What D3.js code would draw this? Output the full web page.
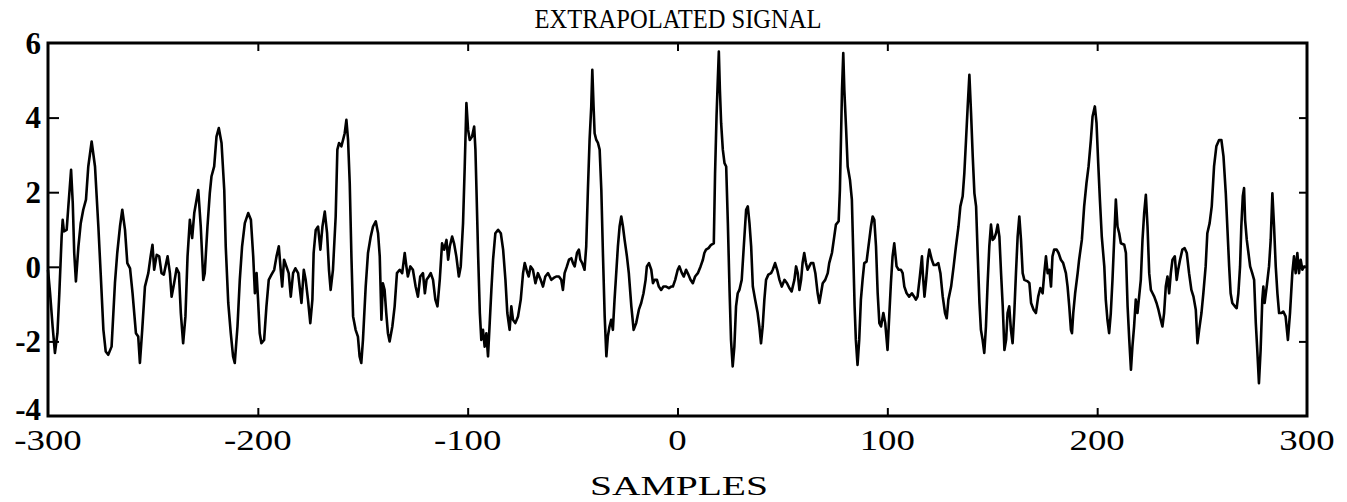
<!DOCTYPE html>
<html>
<head>
<meta charset="utf-8">
<script src="https://cdn.jsdelivr.net/npm/d3@7"></script>
<style>
  body { margin: 0; background: #fff; }
  svg { display: block; }
  text { font-family: "Liberation Serif", "Times New Roman", serif; fill: #000; }
</style>
</head>
<body>
<svg class="chart" width="1347" height="502"></svg>
<script>
// [sample, amplitude]
const signal = [
  [-300,-0.08],[-299,-0.71],[-297.8,-1.6],[-296.7,-2.31],[-295.5,-1.78],[-294.6,-0.71],[-293.5,0.81],[-293,1.26],[-292.4,0.95],[-291.1,0.99],
  [-290.3,1.62],[-289,2.6],[-288.2,1.71],[-287.5,0.37],[-286.7,-0.39],[-285.5,0.55],[-284.4,1.17],[-283.2,1.53],[-281.9,1.8],[-280.8,2.69],
  [-279.2,3.36],[-277.6,2.69],[-276,1.08],[-274.9,-0.17],[-273.6,-1.69],[-272.5,-2.27],[-271.3,-2.36],[-269.7,-2.14],[-268.1,-0.44],[-267,0.37],
  [-265.7,1.08],[-264.6,1.53],[-263.3,0.99],[-262.2,0.1],[-260.9,-0.04],[-259.7,-0.71],[-258.1,-1.78],[-257,-1.87],[-256.2,-2.58],[-255.1,-1.69],
  [-253.8,-0.53],[-252.2,-0.17],[-251.1,0.28],[-250.2,0.59],[-249.4,-0.08],[-248.2,0.32],[-247,0.28],[-245.9,-0.17],[-244.8,-0.21],
  [-243,0.28],[-241.9,-0.17],[-241.1,-0.8],[-239.9,-0.44],[-238.7,-0.04],[-237.6,-0.17],[-236.7,-1.24],[-235.6,-2.05],[-234.5,-1.33],[-233.5,0.28],
  [-232.4,1.26],[-231.3,0.77],[-230.3,1.44],[-229.2,1.8],[-228.4,2.06],[-227.2,1.08],[-226,-0.35],[-225.3,-0.17],[-224,1.08],[-222.9,1.97],
  [-222.1,2.42],[-220.8,2.69],[-219.7,3.49],[-218.6,3.72],[-217.3,3.32],[-216,2.06],[-215.3,0.55],[-214.1,-0.97],[-212.9,-1.78],[-211.8,-2.4],
  [-211,-2.58],[-209.7,-1.6],[-208.6,-0.35],[-207.5,0.55],[-206.2,1.17],[-204.6,1.44],[-203.3,1.26],[-202.2,0.28],[-201.4,-0.71],[-200.6,-0.17],
  [-199.9,-0.88],[-199.1,-1.78],[-198.3,-2.05],[-197,-1.96],[-195.9,-1.06],[-194.8,-0.35],[-193.5,-0.21],[-192.2,-0.08],[-191.1,0.28],[-190,0.55],
  [-189.1,-0.08],[-188.4,-0.53],[-187.5,0.19],[-186.4,0.01],[-185.3,-0.17],[-184.3,-0.8],[-183.2,-0.17],[-182.1,-0.04],[-180.8,-0.17],
  [-179.2,-0.97],[-178.1,-0.08],[-177.2,-0.35],[-176.1,-0.88],[-175,-1.51],[-174,-0.88],[-173.4,0.37],[-172.4,0.99],[-171.3,1.08],[-170.2,0.46],
  [-169.2,1.08],[-168.1,1.48],[-167,0.9],[-166.1,-0.08],[-165.3,-0.62],[-164.2,-0.08],[-162.9,1.35],[-162.1,3.14],[-161.3,3.32],[-160.2,3.23],
  [-159.4,3.4],[-158.6,3.58],[-157.8,3.94],[-157,3.4],[-156.2,2.24],[-155.4,0.28],[-154.6,-1.33],[-153.4,-1.69],[-152.3,-1.87],[-151.5,-2.4],
  [-150.7,-2.58],[-149.9,-1.96],[-148.6,-0.53],[-147.5,0.37],[-146.2,0.81],[-145.1,1.08],[-143.8,1.22],[-142.7,0.9],[-141.9,0.28],[-141.1,-1.42],
  [-140.4,-0.44],[-139.6,-0.62],[-138.8,-1.24],[-138,-1.78],[-137.2,-2],[-135.9,-1.6],[-134.8,-1.06],[-133.7,-0.17],[-132.4,-0.08],[-131.2,-0.17],
  [-130,0.37],[-129.2,0.01],[-128.5,-0.26],[-127.3,0.01],[-126.1,-0.08],[-124.8,-0.53],[-123.7,-0.8],[-122.6,-0.26],[-121.3,-0.17],
  [-120.4,-0.71],[-119.6,-0.35],[-118.5,-0.26],[-117.6,-0.17],[-116.5,-0.35],[-115.4,-0.88],[-114.4,-1.06],[-113.3,-0.35],[-112.2,0.63],[-111.2,0.46],
  [-110.1,0.72],[-109.3,0.19],[-108.5,0.55],[-107.4,0.81],[-106.5,0.63],[-105.4,0.28],[-104.2,-0.26],[-103.3,0.01],[-102.2,1.17],[-101.4,2.69],
  [-100.6,4.39],[-99.8,3.67],[-99,3.4],[-97.9,3.49],[-96.9,3.76],[-96.3,3.14],[-95.8,2.06],[-95,0.28],[-94.2,-1.24],[-93.5,-1.96],
  [-92.7,-1.69],[-91.9,-2.14],[-91.1,-1.78],[-90.3,-2.4],[-89.5,-1.51],[-88.7,-0.62],[-87.9,0.19],[-86.8,0.9],[-85.5,0.99],[-84.2,0.9],
  [-83.1,0.46],[-82,-0.35],[-81.1,-1.24],[-80,-1.69],[-79.2,-1.06],[-78.4,-1.42],[-77.3,-1.51],[-76,-1.33],[-74.7,-0.88],[-73.6,-0.17],
  [-72.8,0.1],[-71.5,-0.17],[-70.9,-0.26],[-70,0.01],[-68.9,-0.08],[-67.7,-0.44],[-66.5,-0.17],[-65.2,-0.35],[-64.1,-0.53],[-63,-0.26],[-61.7,-0.17],
  [-60.9,-0.26],[-60.1,-0.35],[-59,-0.3],[-57.8,-0.26],[-56.5,-0.26],[-55.4,-0.35],[-54.6,-0.62],[-53.8,-0.17],[-52.7,0.01],[-51.7,0.19],
  [-50.6,0.23],[-49.8,0.1],[-49,0.01],[-47.9,0.37],[-47,0.46],[-46.3,0.19],[-45.4,0.1],[-44.3,-0.08],[-43.5,0.55],[-42.7,2.06],
  [-41.9,3.4],[-41.1,4.3],[-40.6,5.28],[-40,4.3],[-39.5,3.58],[-38.7,3.4],[-37.9,3.32],[-37.1,3.14],[-36.3,2.06],[-35.5,0.28],
  [-34.7,-1.33],[-33.9,-2.4],[-33.2,-1.87],[-32.4,-1.6],[-31.6,-1.42],[-30.8,-1.69],[-30,-0.88],[-29.2,-0.17],[-28.4,0.55],[-27.6,1.08],
  [-26.8,1.35],[-26,1.08],[-25.2,0.72],[-24.1,0.28],[-23.2,-0.17],[-22,-1.06],[-20.9,-1.69],[-19.7,-1.51],[-18.4,-1.15],[-17.3,-0.97],
  [-16.2,-0.71],[-15.2,-0.35],[-14.6,0.01],[-13.6,0.1],[-12.5,-0.08],[-11.7,-0.44],[-10.9,-0.35],[-9.8,-0.35],[-8.9,-0.53],[-7.8,-0.62],
  [-6.7,-0.53],[-5.4,-0.53],[-4.1,-0.57],[-3,-0.53],[-2.2,-0.53],
  [-1.1,-0.35],[0.1,-0.08],[0.9,0.01],[2.1,-0.17],[3,-0.26],[4.1,-0.08],[5.2,-0.21],[6.2,-0.35],[7.3,-0.44],[8.4,-0.26],
  [9.7,-0.17],[11,0.01],[12.1,0.19],[12.8,0.37],[13.6,0.46],[14.8,0.5],[16,0.59],[17.3,0.63],[17.9,2.51],[18.6,4.03],
  [19.2,5.01],[19.7,5.77],[20.2,4.75],[20.8,3.85],[21.6,3.14],[22.4,2.78],[23.2,2.69],[24,1.17],[24.8,-0.62],[25.5,-1.96],
  [26.3,-2.67],[27.1,-2.14],[27.9,-1.06],[28.7,-0.71],[29.5,-0.62],[30.6,-0.35],[31.6,0.55],[32.7,1.53],[33.5,1.62],[34.3,1.17],
  [35.1,0.55],[35.9,-0.53],[37,-0.88],[38.2,-1.24],[39,-1.6],[39.8,-2.05],[40.6,-1.6],[41.4,-0.88],[42.2,-0.35],[43.3,-0.21],
  [44.6,-0.17],[45.4,-0.08],[46.5,0.1],[47.5,-0.08],[48.6,-0.35],[49.7,-0.53],[51,-0.35],[52.2,-0.44],[53.3,-0.57],[54.4,-0.66],
  [55.7,-0.35],[56.5,0.01],[57.3,-0.17],
  [58.1,-0.62],[58.9,-0.35],[59.6,0.1],[60.4,0.37],[61.2,0.1],[62,-0.08],[62.8,0.01],[63.6,0.1],[64.7,0.1],[65.7,-0.17],
  [66.8,-0.71],[67.6,-0.97],[68.4,-0.71],[69.2,-0.44],[70.4,-0.35],[71.6,-0.17],[72.3,0.1],[73.6,0.37],[74.7,0.81],[75.5,1.13],
  [76.8,1.22],[77.4,2.06],[77.9,3.4],[78.4,4.75],[79,5.73],[79.5,4.75],[80.3,3.76],[81.1,2.69],[82.2,2.33],[83.1,1.8],
  [83.8,0.28],[84.4,-1.06],[85,-1.96],[85.8,-2.63],[86.6,-1.96],[87.4,-0.88],[88.2,-0.35],[89,0.1],[90.1,0.14],[91.4,0.72],
  [92.2,1.08],[93,1.35],[93.8,1.26],[94.6,0.55],[95.4,-0.71],[96.2,-1.51],[97,-1.6],[98.1,-1.24],[99,-1.51],[100.1,-2.23],
  [100.9,-1.33],[101.7,-0.44],[102.5,0.28],[103.3,0.63],[104.4,0.01],[105.4,-0.08],[106.5,-0.08],[107.3,-0.17],[108.1,-0.53],[109.2,-0.71],
  [110.4,-0.8],[111.7,-0.71],[112.8,-0.8],[113.6,-0.88],[114.4,-0.8],[115.5,-0.26],[116.5,0.28],
  [116.9,-0.17],[117.7,-0.8],[118.5,-0.35],[119.3,0.19],[120,0.46],[121.2,0.19],[122.1,0.05],[123.2,0.05],[124.3,0.1],[125.3,-0.17],
  [126.4,-0.8],[127.5,-1.24],[128.3,-1.38],[129.1,-0.88],[130.4,-0.53],[131.6,0.01],[132.7,0.55],[133.9,1.08],[134.8,1.62],[135.9,1.89],
  [136.7,2.51],[137.5,3.4],[138.3,4.3],[139.1,5.15],[139.9,4.12],[140.7,2.96],[141.5,1.97],[142.3,1.62],[143.1,0.28],[143.9,-0.97],
  [144.6,-1.69],[145.4,-1.96],[146.2,-2.31],[147,-1.6],[147.8,-0.44],[148.6,0.55],[149.4,1.13],[150.2,0.72],[151,0.77],[151.8,0.9],
  [152.6,1.13],[153.4,0.81],[154.2,-0.17],[155,-1.06],[155.8,-2.23],[156.6,-1.96],[157.3,-1.24],[158.1,-1.06],[158.9,-1.69],[159.7,-2.05],
  [160.5,-1.24],[161.3,-0.17],[162.1,0.81],[162.9,1.35],[163.7,0.72],[164.5,-0.17],[165.3,-0.35],[166.9,-0.39],[167.7,-0.44],[168.5,-0.97],
  [169.7,-1.15],[170.8,-1.24],[171.9,-0.8],[172.9,-0.57],[174,-0.71],[174.8,-0.17],[175.6,0.28],
  [176.4,-0.17],[177.2,-0.08],[178,-0.53],[178.7,0.28],[179.5,0.46],[180.7,0.46],[181.6,0.37],[182.7,0.19],[183.8,0.1],[185.1,-0.17],
  [185.9,-0.53],[186.7,-1.06],[187.5,-1.69],[188,-1.78],[188.6,-1.24],[189.5,-0.71],[190.7,-0.17],[191.4,0.19],[192.7,0.72],[193.8,1.62],
  [194.9,2.24],[195.9,2.69],[197,3.4],[197.8,4.03],[198.9,4.3],[199.7,3.85],[200.5,2.78],[201.3,1.8],[202.2,0.81],[203.4,0.01],
  [204.1,-0.88],[204.9,-1.42],[205.7,-1.78],[206.5,-1.24],[207.3,-0.35],[208.1,0.72],[208.9,1.8],[209.7,1.08],[210.5,0.9],[211.3,0.63],
  [212.9,0.59],[213.7,0.37],[214.5,-1.06],[215.3,-1.96],[216.1,-2.76],[216.8,-2.14],[217.6,-1.6],[218.4,-0.88],[219.2,-1.24],[220,-0.8],
  [220.8,-0.35],[221.6,0.72],[222.4,1.44],[223.2,1.93],[224,1.08],[224.8,-0.17],[225.6,-0.62],[226.4,-0.71],[227.2,-0.8],[228.3,-0.97],
  [229.2,-1.15],[230.3,-1.42],[231.1,-1.6],[231.9,-1.24],[232.7,-0.53],[233.5,-0.26],[234.3,-0.71],[235.1,-0.17],[235.9,0.19],
  [237,0.28],[237.9,-0.35],[238.6,-0.08],[239.5,0.19],[240.6,0.46],[241.7,0.5],[242.7,0.37],[243.8,-0.17],[244.9,-0.62],[245.9,-0.8],
  [247,-1.15],[247.8,-2.05],[248.6,-1.69],[249.7,-1.24],[250.6,-0.71],[251.7,0.01],[252.5,0.9],[253.6,1.17],[254.6,1.62],[255.7,2.69],
  [256.8,3.23],[258.1,3.4],[259.2,3.4],[260.2,2.96],[261.3,1.97],[262.1,0.99],[262.9,0.01],[263.6,-0.71],[264.4,-0.97],[265.6,-1.06],
  [266.5,-1.11],[267.3,-0.71],[268.1,0.01],[268.7,1.08],[269.4,1.89],[270,2.11],[270.5,1.26],[271.3,0.72],[272.1,0.37],[272.9,0.01],
  [273.9,-0.17],[274.8,-0.35],[275.6,-1.51],[276.3,-2.23],[277.1,-3.12],[277.9,-2.23],[278.7,-0.88],[279.2,-0.53],[279.8,-0.97],[280.8,-0.53],
  [281.9,0.01],[282.7,0.72],[283.5,1.97],[284.3,1.08],[285.1,0.01],[285.9,-0.71],[286.7,-1.24],[287.8,-1.24],[288.7,-1.2],[289.8,-1.33],
  [290.9,-1.96],[291.9,-1.24],[293,-0.17],[293.8,0.28],[294.6,-0.17],[295.4,0.37],[296.2,-0.17],[297,0.19],[297.8,-0.08],[298.6,0.01],[299.4,0.01]
];

const xTickValues = [-300, -200, -100, 0, 100, 200, 300];
const yTickValues = [-4, -2, 0, 2, 4, 6];
const titleText = 'EXTRAPOLATED SIGNAL';
const xLabelText = 'SAMPLES';

const svg = d3.select('.chart');
const plot = { left: 48, right: 1307, top: 43, bottom: 416 };

const x = d3.scaleLinear().domain([-300, 300]).range([plot.left, plot.right]);
const y = d3.scaleLinear().domain([-4, 6]).range([plot.bottom, plot.top]);

// inner ticks, MATLAB style (none at the corners)
const innerX = xTickValues.filter(d => d > -300 && d < 300);
const innerY = yTickValues.filter(d => d > -4 && d < 6);

svg.append('g')
  .attr('transform', `translate(0, ${plot.bottom})`)
  .call(d3.axisTop(x).tickValues(innerX).tickSize(8).tickFormat(''))
  .call(g => g.select('.domain').remove());
svg.append('g')
  .attr('transform', `translate(0, ${plot.top})`)
  .call(d3.axisBottom(x).tickValues(innerX).tickSize(8).tickFormat(''))
  .call(g => g.select('.domain').remove());
svg.append('g')
  .attr('transform', `translate(${plot.left}, 0)`)
  .call(d3.axisRight(y).tickValues(innerY).tickSize(11).tickFormat(''))
  .call(g => g.select('.domain').remove());
svg.append('g')
  .attr('transform', `translate(${plot.right}, 0)`)
  .call(d3.axisLeft(y).tickValues(innerY).tickSize(8).tickFormat(''))
  .call(g => g.select('.domain').remove());
svg.selectAll('.tick line').attr('stroke', '#000').attr('stroke-width', 2);

svg.append('rect')
  .attr('x', plot.left)
  .attr('y', plot.top)
  .attr('width', plot.right - plot.left)
  .attr('height', plot.bottom - plot.top)
  .attr('fill', 'none')
  .attr('stroke', '#000')
  .attr('stroke-width', 3);

const line = d3.line()
  .x(d => x(d[0]))
  .y(d => y(d[1]));

svg.append('path')
  .datum(signal)
  .attr('fill', 'none')
  .attr('stroke', '#000')
  .attr('stroke-width', 2.6)
  .attr('stroke-linejoin', 'round')
  .attr('d', line);

// y tick labels
svg.append('g')
  .selectAll('text')
  .data(yTickValues)
  .enter()
  .append('text')
  .attr('x', 41)
  .attr('y', d => y(d) + (d === -4 ? -7 : 0))
  .attr('dy', '0.35em')
  .attr('text-anchor', 'end')
  .attr('font-size', 31)
  .attr('font-weight', 'bold')
  .text(d => d);

// x tick labels, the scan is wider than the font, so stretch a little
svg.append('g')
  .selectAll('text')
  .data(xTickValues)
  .enter()
  .append('text')
  .attr('x', d => x(d))
  .attr('y', 450)
  .attr('text-anchor', 'middle')
  .attr('font-size', 29)
  .text(d => d)
  .each(function () {
    const w = this.getComputedTextLength();
    d3.select(this).attr('textLength', w * 1.27).attr('lengthAdjust', 'spacingAndGlyphs');
  });

svg.append('text')
  .attr('x', 678)
  .attr('y', 28)
  .attr('text-anchor', 'middle')
  .attr('font-size', 28)
  .attr('textLength', 287)
  .attr('lengthAdjust', 'spacingAndGlyphs')
  .text(titleText);

svg.append('text')
  .attr('x', 679)
  .attr('y', 495)
  .attr('text-anchor', 'middle')
  .attr('font-size', 28)
  .attr('textLength', 178)
  .attr('lengthAdjust', 'spacingAndGlyphs')
  .text(xLabelText);
</script>
</body>
</html>
